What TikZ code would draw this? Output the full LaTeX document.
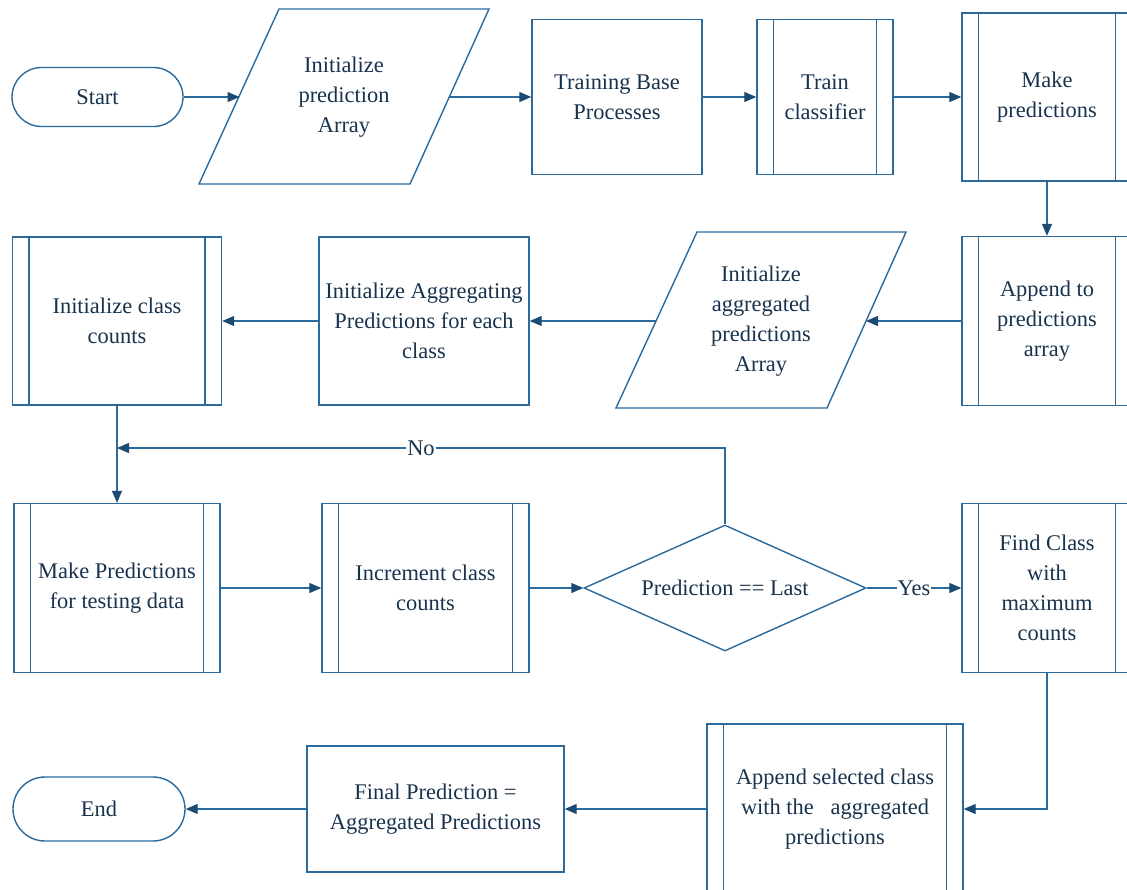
\documentclass[tikz,border=0pt]{standalone}
\usepackage{fontspec}
\setmainfont{Liberation Serif}
\usetikzlibrary{arrows.meta,shapes.geometric}
\definecolor{linecol}{HTML}{2A6A9C}
\definecolor{tipcol}{HTML}{1B4A73}
\definecolor{txtcol}{HTML}{17324D}
\begin{document}
\begin{tikzpicture}[x=1bp,y=-1bp,
  every node/.style={font=\fontsize{22.5}{30}\selectfont, text=txtcol, align=center, inner sep=0pt},
  box/.style={draw=linecol, line width=1.4bp, rectangle},
  subproc/.style={box, path picture={
      \draw[linecol, line width=1.4bp] ([xshift=16.5bp]path picture bounding box.north west) -- ([xshift=16.5bp]path picture bounding box.south west);
      \draw[linecol, line width=1.4bp] ([xshift=-16.5bp]path picture bounding box.north east) -- ([xshift=-16.5bp]path picture bounding box.south east);}},
  termbox/.style={draw=linecol, line width=1.4bp, rectangle},
  decide/.style={draw=linecol, line width=1.4bp, diamond, aspect=2.24},
  pshape/.style={draw=linecol, line width=1.4bp},
  conn/.style={draw=linecol, line width=1.2bp, -{Triangle[length=12bp,width=10bp,fill=tipcol,color=tipcol]}},
  lbl/.style={fill=white, inner xsep=1bp, inner ysep=2bp}
]
\useasboundingbox (0,0) rectangle (1127,890);

% Row 1
\node[termbox, rounded corners=29.5bp, minimum width=171bp, minimum height=59bp] (start) at (97.5,97) {Start};
\draw[pshape] (279,9) -- (489,9) -- (410,184) -- (199,184) -- cycle;
\node (p1) at (344,97) {Initialize\\prediction\\Array};
\coordinate (p1w) at (239.5,97);
\coordinate (p1e) at (448.5,97);
\node[box, minimum width=170bp, minimum height=155bp] (tbp) at (617,97) {Training Base\\Processes};
\node[subproc, minimum width=136bp, minimum height=155bp] (tc) at (825,97) {Train\\classifier};
\node[subproc, minimum width=170bp, minimum height=168bp] (mp) at (1047,97) {Make\\predictions};

% Row 2
\node[subproc, minimum width=170bp, minimum height=169bp] (ap) at (1047,321) {Append to\\predictions\\array};
\draw[pshape] (697,232) -- (906,232) -- (827,408) -- (616,408) -- cycle;
\node (p2) at (761,321) {Initialize\\aggregated\\predictions\\Array};
\coordinate (p2e) at (866,321);
\coordinate (p2w) at (656,321);
\node[box, minimum width=210bp, minimum height=168bp] (iag) at (424,321) {Initialize Aggregating\\Predictions for each\\class};
\node[subproc, minimum width=209bp, minimum height=168bp] (icc) at (117,321) {Initialize class\\counts};

% Row 3
\coordinate (join) at (117,448);
\node[subproc, minimum width=206bp, minimum height=169bp] (mpt) at (117,588) {Make Predictions\\for testing data};
\node[subproc, minimum width=207bp, minimum height=169bp] (inc) at (425.5,588) {Increment class\\counts};
\node[decide, minimum width=282bp, minimum height=126bp] (dec) at (725,588) {Prediction == Last};
\node[subproc, minimum width=170bp, minimum height=169bp] (fc) at (1047,588) {Find Class\\with\\maximum\\counts};

% Row 4
\node[subproc, minimum width=256bp, minimum height=170bp] (asc) at (835,809) {Append selected class\\with the\ \ \ aggregated\\predictions};
\node[box, minimum width=257bp, minimum height=126bp] (fp) at (435.5,809) {Final Prediction =\\Aggregated Predictions};
\node[termbox, rounded corners=32bp, minimum width=172bp, minimum height=64bp] (endn) at (99,809) {End};

% Connectors
\draw[conn] (start.east) -- (p1w);
\draw[conn] (p1e) -- (tbp.west);
\draw[conn] (tbp.east) -- (tc.west);
\draw[conn] (tc.east) -- (mp.west);
\draw[conn] (mp.south) -- (ap.north);
\draw[conn] (ap.west) -- (p2e);
\draw[conn] (p2w) -- (iag.east);
\draw[conn] (iag.west) -- (icc.east);
\draw[conn] (icc.south) -- (mpt.north);
\draw[conn] (dec.north) |- (join) node[pos=0.75, lbl] {No};
\draw[conn] (mpt.east) -- (inc.west);
\draw[conn] (inc.east) -- (dec.west);
\draw[conn] (dec.east) -- (fc.west) node[midway, lbl] {Yes};
\draw[conn] (fc.south) |- (asc.east);
\draw[conn] (asc.west) -- (fp.east);
\draw[conn] (fp.west) -- (endn.east);
\end{tikzpicture}
\end{document}
